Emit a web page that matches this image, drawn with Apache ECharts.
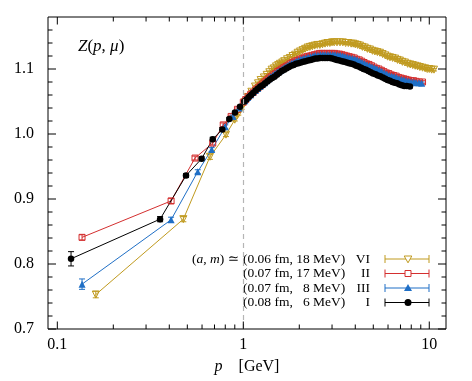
<!DOCTYPE html>
<html>
<head>
<meta charset="utf-8">
<script src="https://cdn.jsdelivr.net/npm/echarts@6/dist/echarts.min.js"></script>
<style>
html, body { margin: 0; padding: 0; background: #fff; }
#chart { width: 472px; height: 381px; }
</style>
</head>
<body>
<div id="chart"></div>
<script>
// each point: [p (GeV), Z, error]
// ensemble I  (0.08 fm, 6 MeV)
var ensI = [
    [0.1185, 0.808, 0.011], [0.357, 0.869, 0.004], [0.492, 0.936, 0.003], [0.597, 0.962, 0.003],
    [0.685, 0.992, 0.003], [0.771, 1.007, 0.003], [0.841, 1.023, 0.002], [0.902, 1.033, 0.002],
    [0.96, 1.042, 0.002], [1.012, 1.050, 0.002], [1.04, 1.053, 0.002], [1.07, 1.057, 0.002],
    [1.10, 1.060, 0.002], [1.13, 1.063, 0.002], [1.165, 1.067, 0.002], [1.20, 1.070, 0.002],
    [1.235, 1.073, 0.002], [1.27, 1.075, 0.002], [1.31, 1.078, 0.002], [1.35, 1.081, 0.002],
    [1.39, 1.084, 0.002], [1.43, 1.086, 0.002], [1.47, 1.088, 0.002], [1.515, 1.091, 0.002],
    [1.56, 1.094, 0.002], [1.61, 1.097, 0.002], [1.66, 1.099, 0.002], [1.71, 1.101, 0.002],
    [1.76, 1.103, 0.002], [1.81, 1.105, 0.002], [1.865, 1.106, 0.002], [1.92, 1.108, 0.002],
    [1.98, 1.109, 0.002], [2.04, 1.110, 0.002], [2.10, 1.111, 0.002], [2.16, 1.112, 0.002],
    [2.23, 1.113, 0.002], [2.30, 1.114, 0.002], [2.37, 1.115, 0.002], [2.44, 1.116, 0.002],
    [2.51, 1.116, 0.002], [2.59, 1.117, 0.002], [2.67, 1.117, 0.002], [2.75, 1.117, 0.002],
    [2.83, 1.117, 0.002], [2.92, 1.117, 0.002], [3.01, 1.116, 0.002], [3.10, 1.115, 0.002],
    [3.19, 1.114, 0.002], [3.29, 1.113, 0.002], [3.39, 1.112, 0.002], [3.49, 1.111, 0.002],
    [3.60, 1.110, 0.002], [3.71, 1.109, 0.002], [3.82, 1.108, 0.002], [3.93, 1.107, 0.002],
    [4.05, 1.105, 0.002], [4.17, 1.104, 0.002], [4.30, 1.102, 0.002], [4.43, 1.100, 0.002],
    [4.56, 1.099, 0.002], [4.70, 1.097, 0.002], [4.84, 1.095, 0.002], [4.99, 1.093, 0.002],
    [5.14, 1.092, 0.002], [5.29, 1.090, 0.002], [5.45, 1.089, 0.002], [5.62, 1.087, 0.002],
    [5.79, 1.085, 0.002], [5.96, 1.083, 0.002], [6.14, 1.082, 0.002], [6.33, 1.080, 0.002],
    [6.52, 1.079, 0.002], [6.71, 1.078, 0.002], [6.92, 1.076, 0.002], [7.12, 1.075, 0.002],
    [7.34, 1.074, 0.002], [7.56, 1.074, 0.002], [7.87, 1.073, 0.002]
];

// ensemble II  (0.07 fm, 17 MeV)
var ensII = [
    [0.1358, 0.841, 0.004], [0.409, 0.897, 0.004], [0.55, 0.963, 0.003], [0.685, 0.986, 0.003],
    [0.78, 1.014, 0.003], [0.86, 1.027, 0.002], [0.93, 1.038, 0.002], [1.0, 1.049, 0.002],
    [1.03, 1.053, 0.002], [1.06, 1.057, 0.002], [1.095, 1.061, 0.002], [1.13, 1.064, 0.002],
    [1.165, 1.068, 0.002], [1.20, 1.071, 0.002], [1.235, 1.074, 0.002], [1.27, 1.077, 0.002],
    [1.305, 1.080, 0.002], [1.34, 1.083, 0.002], [1.375, 1.086, 0.002], [1.41, 1.088, 0.002],
    [1.45, 1.091, 0.002], [1.49, 1.093, 0.002], [1.53, 1.096, 0.002], [1.57, 1.098, 0.002],
    [1.61, 1.100, 0.002], [1.65, 1.102, 0.002], [1.695, 1.104, 0.002], [1.74, 1.106, 0.002],
    [1.79, 1.108, 0.002], [1.84, 1.110, 0.002], [1.895, 1.112, 0.002], [1.95, 1.113, 0.002],
    [2.01, 1.115, 0.002], [2.07, 1.116, 0.002], [2.135, 1.118, 0.002], [2.20, 1.119, 0.002],
    [2.27, 1.120, 0.002], [2.34, 1.121, 0.002], [2.415, 1.122, 0.002], [2.49, 1.123, 0.002],
    [2.57, 1.124, 0.002], [2.65, 1.124, 0.002], [2.73, 1.124, 0.002], [2.82, 1.124, 0.002],
    [2.91, 1.124, 0.002], [3.00, 1.124, 0.002], [3.095, 1.124, 0.002], [3.19, 1.123, 0.002],
    [3.29, 1.123, 0.002], [3.39, 1.122, 0.002], [3.495, 1.121, 0.002], [3.60, 1.120, 0.002],
    [3.71, 1.119, 0.002], [3.83, 1.118, 0.002], [3.95, 1.117, 0.002], [4.07, 1.115, 0.002],
    [4.20, 1.114, 0.002], [4.33, 1.112, 0.002], [4.46, 1.110, 0.002], [4.60, 1.108, 0.002],
    [4.74, 1.107, 0.002], [4.89, 1.105, 0.002], [5.04, 1.103, 0.002], [5.20, 1.101, 0.002],
    [5.36, 1.100, 0.002], [5.53, 1.098, 0.002], [5.70, 1.096, 0.002], [5.88, 1.094, 0.002],
    [6.06, 1.093, 0.002], [6.25, 1.091, 0.002], [6.44, 1.090, 0.002], [6.64, 1.089, 0.002],
    [6.85, 1.087, 0.002], [7.06, 1.086, 0.002], [7.28, 1.085, 0.002], [7.50, 1.084, 0.002],
    [7.73, 1.083, 0.002], [7.97, 1.082, 0.002], [8.23, 1.082, 0.002], [8.5, 1.081, 0.002],
    [8.85, 1.080, 0.002], [9.2, 1.080, 0.002]
];

// ensemble III  (0.07 fm, 8 MeV)
var ensIII = [
    [0.1358, 0.769, 0.008], [0.409, 0.868, 0.004], [0.569, 0.942, 0.003], [0.676, 0.976, 0.003],
    [0.80, 1.011, 0.003], [0.88, 1.027, 0.002], [0.95, 1.040, 0.002], [1.02, 1.051, 0.002],
    [1.055, 1.056, 0.002], [1.09, 1.060, 0.002], [1.125, 1.064, 0.002], [1.16, 1.067, 0.002],
    [1.195, 1.070, 0.002], [1.23, 1.073, 0.002], [1.265, 1.076, 0.002], [1.30, 1.079, 0.002],
    [1.335, 1.082, 0.002], [1.37, 1.085, 0.002], [1.405, 1.088, 0.002], [1.44, 1.090, 0.002],
    [1.48, 1.093, 0.002], [1.52, 1.095, 0.002], [1.56, 1.097, 0.002], [1.60, 1.099, 0.002],
    [1.64, 1.101, 0.002], [1.68, 1.103, 0.002], [1.725, 1.105, 0.002], [1.77, 1.107, 0.002],
    [1.82, 1.109, 0.002], [1.87, 1.110, 0.002], [1.925, 1.112, 0.002], [1.98, 1.113, 0.002],
    [2.04, 1.115, 0.002], [2.10, 1.116, 0.002], [2.165, 1.117, 0.002], [2.23, 1.118, 0.002],
    [2.30, 1.119, 0.002], [2.37, 1.120, 0.002], [2.44, 1.121, 0.002], [2.52, 1.121, 0.002],
    [2.60, 1.122, 0.002], [2.68, 1.122, 0.002], [2.76, 1.122, 0.002], [2.85, 1.122, 0.002],
    [2.94, 1.122, 0.002], [3.03, 1.122, 0.002], [3.12, 1.122, 0.002], [3.22, 1.121, 0.002],
    [3.32, 1.121, 0.002], [3.42, 1.120, 0.002], [3.52, 1.119, 0.002], [3.63, 1.118, 0.002],
    [3.74, 1.117, 0.002], [3.86, 1.116, 0.002], [3.98, 1.115, 0.002], [4.10, 1.114, 0.002],
    [4.23, 1.112, 0.002], [4.36, 1.110, 0.002], [4.49, 1.108, 0.002], [4.63, 1.106, 0.002],
    [4.77, 1.105, 0.002], [4.92, 1.103, 0.002], [5.07, 1.102, 0.002], [5.23, 1.100, 0.002],
    [5.39, 1.098, 0.002], [5.56, 1.096, 0.002], [5.73, 1.094, 0.002], [5.91, 1.092, 0.002],
    [6.09, 1.090, 0.002], [6.28, 1.089, 0.002], [6.47, 1.088, 0.002], [6.67, 1.087, 0.002],
    [6.88, 1.085, 0.002], [7.09, 1.084, 0.002], [7.31, 1.083, 0.002], [7.53, 1.082, 0.002],
    [7.76, 1.081, 0.002], [8.0, 1.080, 0.002], [8.25, 1.080, 0.002], [8.5, 1.079, 0.002],
    [8.8, 1.079, 0.002], [9.1, 1.078, 0.002]
];

// ensemble VI  (0.06 fm, 18 MeV)
var ensVI = [
    [0.161, 0.753, 0.005], [0.476, 0.869, 0.004], [0.662, 0.965, 0.004], [0.807, 0.999, 0.003],
    [0.90, 1.022, 0.002], [0.94, 1.031, 0.002], [0.98, 1.040, 0.002], [1.02, 1.049, 0.002],
    [1.06, 1.057, 0.002], [1.105, 1.065, 0.002], [1.156, 1.073, 0.002], [1.20, 1.078, 0.002],
    [1.24, 1.083, 0.002], [1.29, 1.087, 0.002], [1.336, 1.091, 0.002], [1.38, 1.095, 0.002],
    [1.42, 1.099, 0.002], [1.46, 1.101, 0.002], [1.50, 1.104, 0.002], [1.54, 1.106, 0.002],
    [1.575, 1.108, 0.002], [1.62, 1.110, 0.002], [1.66, 1.112, 0.002], [1.72, 1.115, 0.002],
    [1.78, 1.117, 0.002], [1.84, 1.120, 0.002], [1.90, 1.122, 0.002], [1.96, 1.125, 0.002],
    [2.02, 1.127, 0.002], [2.085, 1.129, 0.002], [2.15, 1.131, 0.002], [2.215, 1.133, 0.002],
    [2.28, 1.134, 0.002], [2.35, 1.135, 0.002], [2.42, 1.136, 0.002], [2.50, 1.137, 0.002],
    [2.58, 1.137, 0.002], [2.665, 1.138, 0.002], [2.75, 1.139, 0.002], [2.835, 1.140, 0.002],
    [2.92, 1.140, 0.002], [3.00, 1.141, 0.002], [3.08, 1.141, 0.002], [3.19, 1.141, 0.002],
    [3.31, 1.141, 0.002], [3.43, 1.141, 0.002], [3.55, 1.140, 0.002], [3.67, 1.140, 0.002],
    [3.80, 1.139, 0.002], [3.90, 1.139, 0.002], [4.00, 1.138, 0.002], [4.12, 1.137, 0.002],
    [4.24, 1.136, 0.002], [4.37, 1.134, 0.002], [4.50, 1.133, 0.002], [4.65, 1.131, 0.002],
    [4.80, 1.130, 0.002], [4.95, 1.128, 0.002], [5.10, 1.127, 0.002], [5.26, 1.126, 0.002],
    [5.43, 1.125, 0.002], [5.61, 1.123, 0.002], [5.80, 1.121, 0.002], [5.97, 1.119, 0.002],
    [6.15, 1.118, 0.002], [6.35, 1.117, 0.002], [6.55, 1.116, 0.002], [6.75, 1.114, 0.002],
    [6.95, 1.113, 0.002], [7.17, 1.111, 0.002], [7.40, 1.110, 0.002], [7.65, 1.108, 0.002],
    [7.90, 1.107, 0.002], [8.15, 1.106, 0.002], [8.40, 1.105, 0.002], [8.65, 1.104, 0.002],
    [8.90, 1.103, 0.002], [9.20, 1.102, 0.002], [9.50, 1.101, 0.002], [9.75, 1.100, 0.002],
    [10.0, 1.100, 0.002], [10.3, 1.099, 0.002], [10.6, 1.099, 0.002]
];

// axes
var xMin = 0.0891, xMax = 12.3;
var yMin = 0.7, yMax = 1.18;
var xMajorTicks = [0.1, 1, 10];
var xMinorTicks = [0.2, 0.3, 0.4, 0.5, 0.6, 0.7, 0.8, 0.9, 2, 3, 4, 5, 6, 7, 8, 9];
var yMajorTicks = [0.7, 0.8, 0.9, 1.0, 1.1];
var yMinorTicks = [0.72, 0.74, 0.76, 0.78, 0.82, 0.84, 0.86, 0.88, 0.92, 0.94, 0.96, 0.98, 1.02, 1.04, 1.06, 1.08, 1.12, 1.14, 1.16];

// legend texts
var legendTags = ['VI', 'II', 'III', 'I'];
var legendA = ['(0.06 fm,', '(0.07 fm,', '(0.07 fm,', '(0.08 fm,'];
var legendB = ['18 MeV)', '17 MeV)', '8 MeV)', '6 MeV)'];

var cVI = '#c09a1e', cII = '#d42f2f', cIII = '#1f6fc6', cI = '#000000';
var FONT = "'Liberation Serif', 'DejaVu Serif', serif";

var chart = echarts.init(document.getElementById('chart'));

// vertical error bars, drawn through the axes
function errorBars(pts, color) {
    return {
        type: 'custom',
        data: pts,
        encode: {x: 0, y: 1},
        silent: true,
        renderItem: function (params, api) {
            var x = api.value(0), y = api.value(1), d = api.value(2);
            var hi = api.coord([x, y + d]);
            var lo = api.coord([x, y - d]);
            var w = 3;
            var st = {stroke: color, lineWidth: 1};
            return {
                type: 'group',
                children: [
                    {type: 'line', shape: {x1: hi[0], y1: hi[1], x2: lo[0], y2: lo[1]}, style: st},
                    {type: 'line', shape: {x1: hi[0] - w, y1: hi[1], x2: hi[0] + w, y2: hi[1]}, style: st},
                    {type: 'line', shape: {x1: lo[0] - w, y1: lo[1], x2: lo[0] + w, y2: lo[1]}, style: st}
                ]
            };
        }
    };
}

function lineSeries(pts, color, symbol, size, rotate, hollow) {
    return {
        type: 'line',
        data: pts.map(function (d) { return [d[0], d[1]]; }),
        symbol: symbol,
        symbolSize: size,
        symbolRotate: rotate,
        showAllSymbol: true,
        lineStyle: {color: color, width: 1},
        itemStyle: hollow ? {color: 'rgba(0,0,0,0)', borderColor: color, borderWidth: 1} : {color: color},
        silent: true
    };
}

// inward ticks on all four sides
function tickSeries() {
    var data = [];
    xMajorTicks.forEach(function (v) { data.push([v, yMin, 0, 7.5]); });
    xMinorTicks.forEach(function (v) { data.push([v, yMin, 0, 4.5]); });
    yMajorTicks.forEach(function (v) { data.push([xMin, v, 1, 8]); });
    yMinorTicks.forEach(function (v) { data.push([xMin, v, 1, 4.5]); });
    return {
        type: 'custom',
        data: data,
        encode: {x: 0, y: 1},
        silent: true,
        z: 10,
        renderItem: function (params, api) {
            var x = api.value(0), y = api.value(1), dir = api.value(2), len = api.value(3);
            var st = {stroke: '#000', lineWidth: 1};
            if (dir === 0) {
                var b = api.coord([x, yMin]), t = api.coord([x, yMax]);
                return {type: 'group', children: [
                    {type: 'line', shape: {x1: b[0], y1: b[1], x2: b[0], y2: b[1] - len}, style: st},
                    {type: 'line', shape: {x1: t[0], y1: t[1], x2: t[0], y2: t[1] + len}, style: st}
                ]};
            }
            var l = api.coord([xMin, y]), r = api.coord([xMax, y]);
            return {type: 'group', children: [
                {type: 'line', shape: {x1: l[0], y1: l[1], x2: l[0] + len, y2: l[1]}, style: st},
                {type: 'line', shape: {x1: r[0], y1: r[1], x2: r[0] - len, y2: r[1]}, style: st}
            ]};
        }
    };
}

// text width, so the "MeV)" column lines up under the first row
function textWidth(str, size) {
    var ctx = document.createElement('canvas').getContext('2d');
    ctx.font = size + 'px ' + FONT;
    return ctx.measureText(str).width;
}

// legend drawn by hand (gnuplot style: text left, sample right)
function legendGraphics() {
    var g = [];
    var rowY = [259, 273.5, 288, 302.5];
    var colors = [cVI, cII, cIII, cI];
    var fs = 13.5;
    var x0 = 243;
    var xEnd = x0 + textWidth(legendA[0] + ' ' + legendB[0], fs);
    g.push({
        type: 'text', x: 239, y: rowY[0],
        style: {
            text: '({i|a}, {i|m}) ≃', align: 'right', verticalAlign: 'middle',
            fontFamily: FONT, fontSize: fs, fill: '#000',
            rich: {i: {fontStyle: 'italic', fontFamily: FONT, fontSize: fs}}
        }
    });
    for (var i = 0; i < 4; i++) {
        var y = rowY[i], c = colors[i], mx = 408;
        g.push({type: 'text', x: x0, y: y, style: {text: legendA[i], align: 'left', verticalAlign: 'middle', fontFamily: FONT, fontSize: fs, fill: '#000'}});
        g.push({type: 'text', x: xEnd, y: y, style: {text: legendB[i], align: 'right', verticalAlign: 'middle', fontFamily: FONT, fontSize: fs, fill: '#000'}});
        g.push({type: 'text', x: 370, y: y, style: {text: legendTags[i], align: 'right', verticalAlign: 'middle', fontFamily: FONT, fontSize: fs, fill: '#000'}});
        g.push({type: 'line', shape: {x1: 385, y1: y, x2: 429, y2: y}, style: {stroke: c, lineWidth: 1}});
        g.push({type: 'line', shape: {x1: 385, y1: y - 4, x2: 385, y2: y + 4}, style: {stroke: c, lineWidth: 1}});
        g.push({type: 'line', shape: {x1: 429, y1: y - 4, x2: 429, y2: y + 4}, style: {stroke: c, lineWidth: 1}});
        if (i === 0) {
            g.push({type: 'polygon', shape: {points: [[mx - 3.8, y - 3], [mx + 3.8, y - 3], [mx, y + 3.8]]}, style: {fill: '#fff', stroke: c, lineWidth: 1}});
        } else if (i === 1) {
            g.push({type: 'rect', shape: {x: mx - 3, y: y - 3, width: 6, height: 6}, style: {fill: '#fff', stroke: c, lineWidth: 1}});
        } else if (i === 2) {
            g.push({type: 'polygon', shape: {points: [[mx - 4, y + 3], [mx + 4, y + 3], [mx, y - 4]]}, style: {fill: c}});
        } else {
            g.push({type: 'circle', shape: {cx: mx, cy: y, r: 3.5}, style: {fill: c}});
        }
    }
    g.push({
        type: 'text', x: 78, y: 47,
        style: {
            text: '{i|Z}({i|p}, {i|μ})', align: 'left', verticalAlign: 'middle',
            fontFamily: FONT, fontSize: 17, fill: '#000',
            rich: {i: {fontStyle: 'italic', fontFamily: FONT, fontSize: 17}}
        }
    });
    return g;
}

var series = [];
var vi = lineSeries(ensVI, cVI, 'triangle', 7, 180, true);
vi.markLine = {
    silent: true,
    symbol: 'none',
    label: {show: false},
    lineStyle: {color: '#b5b5b5', type: [5, 4], width: 1.2},
    data: [{xAxis: 1}]
};
series.push(errorBars(ensVI, cVI), vi);
series.push(errorBars(ensII, cII), lineSeries(ensII, cII, 'rect', 6, 0, true));
series.push(errorBars(ensIII, cIII), lineSeries(ensIII, cIII, 'triangle', 7, 0, false));
series.push(errorBars(ensI, cI), lineSeries(ensI, cI, 'circle', 6.5, 0, false));
series.push(tickSeries());

chart.setOption({
    animation: false,
    backgroundColor: '#fff',
    grid: {left: 48, right: 26, top: 17, bottom: 52, show: true, borderColor: '#000', borderWidth: 1, backgroundColor: 'transparent'},
    xAxis: {
        type: 'log',
        logBase: 10,
        min: xMin,
        max: xMax,
        axisLine: {show: false},
        axisTick: {show: false},
        splitLine: {show: false},
        axisLabel: {
            margin: 8,
            color: '#000',
            fontFamily: FONT,
            fontSize: 16,
            showMinLabel: true,
            showMaxLabel: true,
            formatter: function (v) {
                var l = Math.log10(v);
                if (Math.abs(l - Math.round(l)) > 1e-6) return '';
                return String(Math.pow(10, Math.round(l)));
            }
        },
        name: '{i|p}    [GeV]',
        nameLocation: 'middle',
        nameGap: 30,
        nameTextStyle: {
            color: '#000', fontFamily: FONT, fontSize: 16,
            rich: {i: {fontStyle: 'italic', fontFamily: FONT, fontSize: 16, color: '#000'}}
        }
    },
    yAxis: {
        type: 'value',
        min: yMin,
        max: yMax,
        interval: 0.1,
        axisLine: {show: false},
        axisTick: {show: false},
        splitLine: {show: false},
        axisLabel: {
            margin: 14,
            color: '#000',
            fontFamily: FONT,
            fontSize: 16,
            formatter: function (v) {
                if (Math.abs(v * 10 - Math.round(v * 10)) > 1e-6) return '';
                return v.toFixed(1);
            }
        }
    },
    graphic: legendGraphics(),
    series: series
});

window.onresize = function () {
    chart.resize();
};
</script>
</body>
</html>
